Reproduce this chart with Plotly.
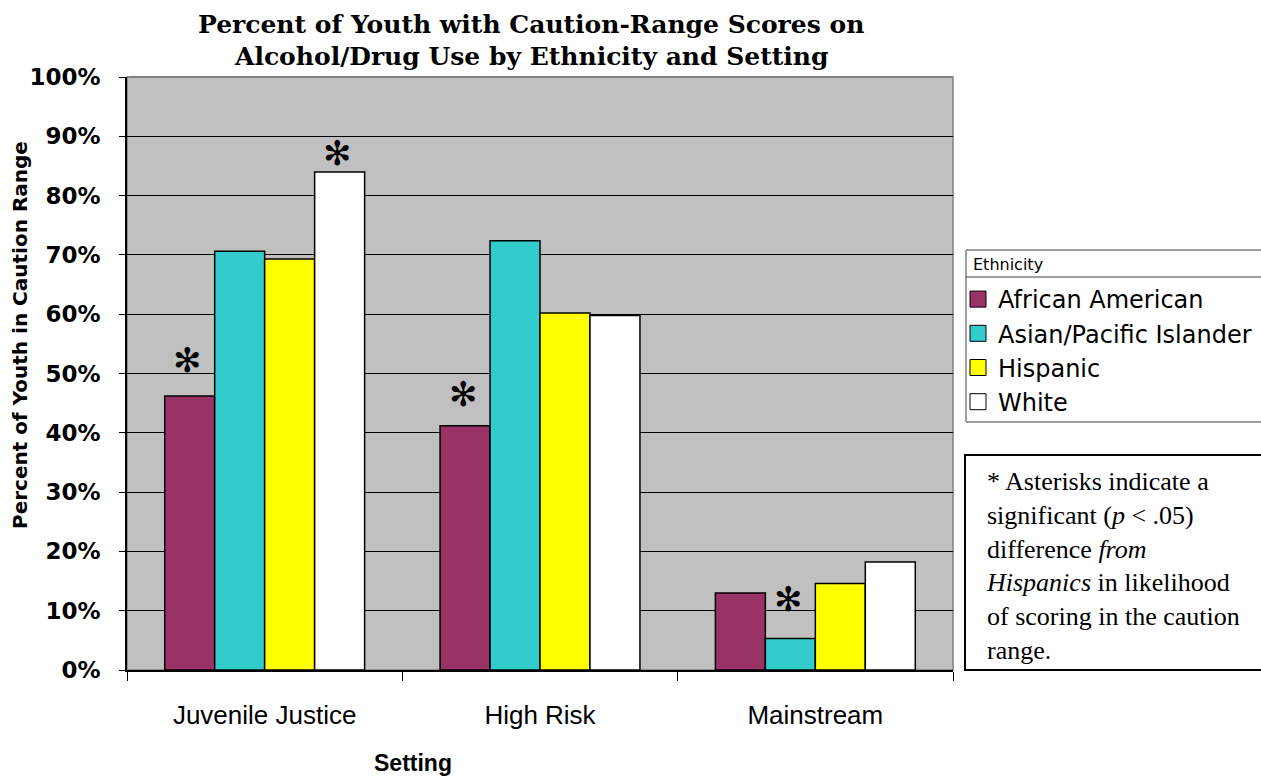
import plotly.graph_objects as go

# Settings (x categories) and ethnic groups
settings = ["Juvenile Justice", "High Risk", "Mainstream"]
groups = ["African American", "Asian/Pacific Islander", "Hispanic", "White"]

# Share of youth scoring in the caution range, per setting
african_american = [0.462, 0.412, 0.130]
asian_pacific = [0.706, 0.724, 0.053]
hispanic = [0.693, 0.602, 0.146]
white = [0.840, 0.598, 0.182]

# Significant difference from Hispanics (p < .05)
sig_african_american = [True, True, False]
sig_asian_pacific = [False, False, True]
sig_hispanic = [False, False, False]
sig_white = [True, False, False]

y_ticks = [i / 10 for i in range(11)]

colors = ["#993366", "#33CCCC", "#FFFF00", "#FFFFFF"]
series = [african_american, asian_pacific, hispanic, white]
flags = [sig_african_american, sig_asian_pacific, sig_hispanic, sig_white]

# how far (px) each significance star sits above its bar, keyed by (group, setting)
star_raise = {(0, 0): 36, (3, 0): 19, (0, 1): 32, (1, 2): 40}

W, H = 1261, 778
L, R, T, B = 127, 308, 77, 108
PW, PH = W - L - R, H - T - B
BARGAP = 0.274
bar_px = PW / len(settings) * (1 - BARGAP) / len(groups)


def px_x(px):
    return (px - L) / PW


def px_y(py):
    return (H - B - py) / PH


fig = go.Figure()
for name, vals, col in zip(groups, series, colors):
    fig.add_trace(go.Bar(
        name=name, x=settings, y=vals,
        marker=dict(color=col, line=dict(color="#000000", width=1.5)),
        showlegend=False, hoverinfo="skip",
    ))
# legend swatches
for name, col in zip(groups, colors):
    fig.add_trace(go.Scatter(
        name=name, x=[None], y=[None], mode="markers",
        marker=dict(symbol="square", size=16, color=col,
                    line=dict(color="#000000", width=1)),
        showlegend=True, hoverinfo="skip",
    ))

# significance stars above the bars
for gi, (vals, sig) in enumerate(zip(series, flags)):
    for si, s in enumerate(sig):
        if s:
            fig.add_annotation(
                x=settings[si], y=vals[si], xref="x", yref="y",
                xshift=(gi - (len(groups) - 1) / 2) * bar_px - 2,
                yshift=star_raise.get((gi, si), 25),
                text="\u273B", showarrow=False,
                xanchor="center", yanchor="middle",
                font=dict(family="DejaVu Sans", size=34, color="#000000"),
            )

shapes = [
    # plot frame
    dict(type="rect", xref="paper", yref="paper", x0=0, x1=1, y0=0, y1=1,
         line=dict(color="#808080", width=1.5), fillcolor="#C0C0C0", layer="below"),
    dict(type="line", xref="paper", yref="paper", x0=0.002, x1=1, y0=1, y1=1,
         line=dict(color="#808080", width=2), layer="above"),
    # legend frame and title separator
    dict(type="rect", xref="paper", yref="paper", x0=px_x(966), x1=px_x(1275),
         y0=px_y(422), y1=px_y(250), line=dict(color="#404040", width=1)),
    dict(type="line", xref="paper", yref="paper", x0=px_x(966), x1=px_x(1275),
         y0=px_y(277), y1=px_y(277), line=dict(color="#404040", width=1)),
    # note frame
    dict(type="rect", xref="paper", yref="paper", x0=px_x(965), x1=px_x(1275),
         y0=px_y(670), y1=px_y(455), line=dict(color="#000000", width=2)),
]

note = ("* Asterisks indicate a<br>significant (<i>p</i> &lt; .05)<br>"
        "difference <i>from</i><br><i>Hispanics</i> in likelihood<br>"
        "of scoring in the caution<br>range.")

fig.add_annotation(
    xref="paper", yref="paper", x=px_x(984), y=px_y(465),
    xanchor="left", yanchor="top", align="left", showarrow=False,
    text=note, font=dict(family="Liberation Serif", size=26, color="#000000"),
)

# legend heading
fig.add_annotation(
    xref="paper", yref="paper", x=px_x(971), y=px_y(264),
    xanchor="left", yanchor="middle", showarrow=False,
    text="Ethnicity", font=dict(family="DejaVu Sans", size=16, color="#000000"),
)

# chart title, two lines
title_font = dict(family="DejaVu Serif", size=25, color="#000000", weight="bold")
for line, cy in (("Percent of Youth with Caution-Range Scores on", 25),
                 ("Alcohol/Drug Use by Ethnicity and Setting", 57)):
    fig.add_annotation(
        xref="paper", yref="paper", x=px_x(531), y=px_y(cy),
        xanchor="center", yanchor="middle", showarrow=False,
        text=line, font=title_font,
    )

# axis titles
fig.add_annotation(
    xref="paper", yref="paper", x=px_x(20), y=px_y(335),
    xanchor="center", yanchor="middle", showarrow=False, textangle=-90,
    text="Percent of Youth in Caution Range",
    font=dict(family="DejaVu Sans", size=20, color="#000000", weight="bold"),
)
fig.add_annotation(
    xref="paper", yref="paper", x=px_x(413), y=px_y(763),
    xanchor="center", yanchor="middle", showarrow=False,
    text="Setting",
    font=dict(family="Liberation Sans", size=23, color="#000000", weight="bold"),
)

fig.update_layout(
    width=W, height=H,
    margin=dict(l=L, r=R, t=T, b=B, autoexpand=False),
    paper_bgcolor="#FFFFFF", plot_bgcolor="#C0C0C0",
    barmode="group", bargap=BARGAP, bargroupgap=0,
    xaxis=dict(
        type="category", showgrid=False,
        showline=True, linecolor="#000000", linewidth=1.5,
        ticks="outside", tickson="boundaries", ticklen=9, tickcolor="#000000",
        tickfont=dict(family="Liberation Sans", size=26, color="#000000"),
        ticklabelstandoff=21,
    ),
    yaxis=dict(
        range=[0, 1], tickvals=y_ticks, tickformat=".0%",
        showgrid=True, gridcolor="#000000", gridwidth=1,
        showline=True, linecolor="#000000", linewidth=1.5,
        ticks="outside", ticklen=6, tickcolor="#000000",
        tickfont=dict(family="DejaVu Sans", size=23, color="#000000", weight="bold"),
        ticklabelstandoff=14,
        zeroline=False,
    ),
    legend=dict(
        x=px_x(958), y=px_y(277), xanchor="left", yanchor="top",
        bgcolor="rgba(0,0,0,0)", borderwidth=0,
        font=dict(family="DejaVu Sans", size=24, color="#000000"),
        itemsizing="trace", tracegroupgap=5,
    ),
    shapes=shapes,
    showlegend=True,
)

fig.write_html("out.html")
